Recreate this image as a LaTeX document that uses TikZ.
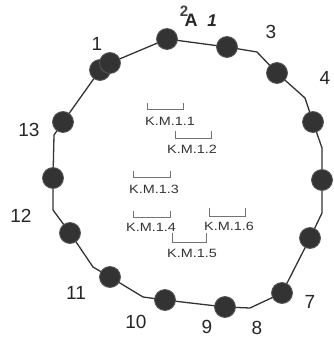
\documentclass[tikz,border=0pt]{standalone}
\usepackage{fontspec}
\setmainfont{Liberation Sans}
\begin{document}
\begin{tikzpicture}[x=1pt,y=-1pt,
  dot/.style={circle,fill=black!80,draw=black!65,line width=0.8pt,minimum size=21pt,inner sep=0pt},
  wire/.style={draw=black!80,line width=1.3pt,line join=round},
  num/.style={font=\fontsize{19}{19}\selectfont,text=black!85,inner sep=0pt},
  km/.style={font=\fontsize{12}{12}\selectfont,text=black!80,inner sep=0pt},
  brk/.style={draw=black!55,line width=0.7pt}]
\useasboundingbox (0,0) rectangle (333,340);
% waypoints
\coordinate (w1) at (257,52);
\coordinate (w2) at (305,98);
\coordinate (w3) at (322,148);
\coordinate (w4) at (322,213);
\coordinate (w5) at (250,308);
\coordinate (w6) at (143,297);
\coordinate (w7) at (93,267);
\coordinate (w8) at (53,210);
\coordinate (w9) at (54,135);
% wire
\draw[wire] (167,39) coordinate (c2) -- (227,47) coordinate (c3) -- (w1) -- (277,73) coordinate (c4) -- (w2)
  -- (313,122) coordinate (c5) -- (w3) -- (322,180) coordinate (c6) -- (w4) -- (310,238) coordinate (c7)
  -- (282,293) coordinate (c8) -- (w5) -- (225,307) coordinate (c9) -- (165,300) coordinate (c10) -- (w6)
  -- (110,277) coordinate (c11) -- (w7) -- (70,233) coordinate (c12) -- (w8) -- (53,178) coordinate (c13)
  -- (w9) -- (63,122) coordinate (c14) -- (100,70) coordinate (c15) -- (110,63) coordinate (c16) -- (c2);
% dots
\foreach \c in {c2,c3,c4,c5,c6,c7,c8,c9,c10,c11,c12,c13,c14,c15,c16}
  \node[dot] (d\c) at (\c) {};
% numbers
\node[num] (n1) at (97,44) {1};
\node[num] (n3) at (271,32) {3};
\node[num] (n4) at (325,78) {4};
\node[num] (n13) at (29,130) {13};
\node[num] (n12) at (21,216) {12};
\node[num] (n11) at (76,293) {11};
\node[num] (n10) at (136,322) {10};
\node[num] (n9) at (207,327) {9};
\node[num] (n8) at (257,328) {8};
\node[num] (n7) at (310,302) {7};
\node[num,font=\fontsize{15}{15}\selectfont\bfseries,text=black!75] (n2) at (184,11) {2};
\node[num,font=\fontsize{18}{18}\selectfont\bfseries] (nA) at (191,20) {A};
\node[num,font=\fontsize{17}{17}\selectfont\bfseries\itshape] (nA1) at (212,21) {1};
% brackets
\draw[brk] (147,103) -- (147,109) -- (183,109) -- (183,103);
\draw[brk] (175,131) -- (175,138) -- (211,138) -- (211,131);
\draw[brk] (133,171) -- (133,177) -- (170,177) -- (170,171);
\draw[brk] (133,211) -- (133,217) -- (170,217) -- (170,211);
\draw[brk] (172,233) -- (172,242) -- (206,242) -- (206,233);
\draw[brk] (209,208) -- (209,216) -- (245,216) -- (245,208);
% labels
\node[km] (k1) at (170,121) {\scalebox{1.2}[1]{K.M.1.1}};
\node[km] (k2) at (192,149) {\scalebox{1.2}[1]{K.M.1.2}};
\node[km] (k3) at (154,189) {\scalebox{1.2}[1]{K.M.1.3}};
\node[km] (k4) at (151,227) {\scalebox{1.2}[1]{K.M.1.4}};
\node[km] (k5) at (192,253) {\scalebox{1.2}[1]{K.M.1.5}};
\node[km] (k6) at (229,226) {\scalebox{1.2}[1]{K.M.1.6}};
\end{tikzpicture}
\end{document}
